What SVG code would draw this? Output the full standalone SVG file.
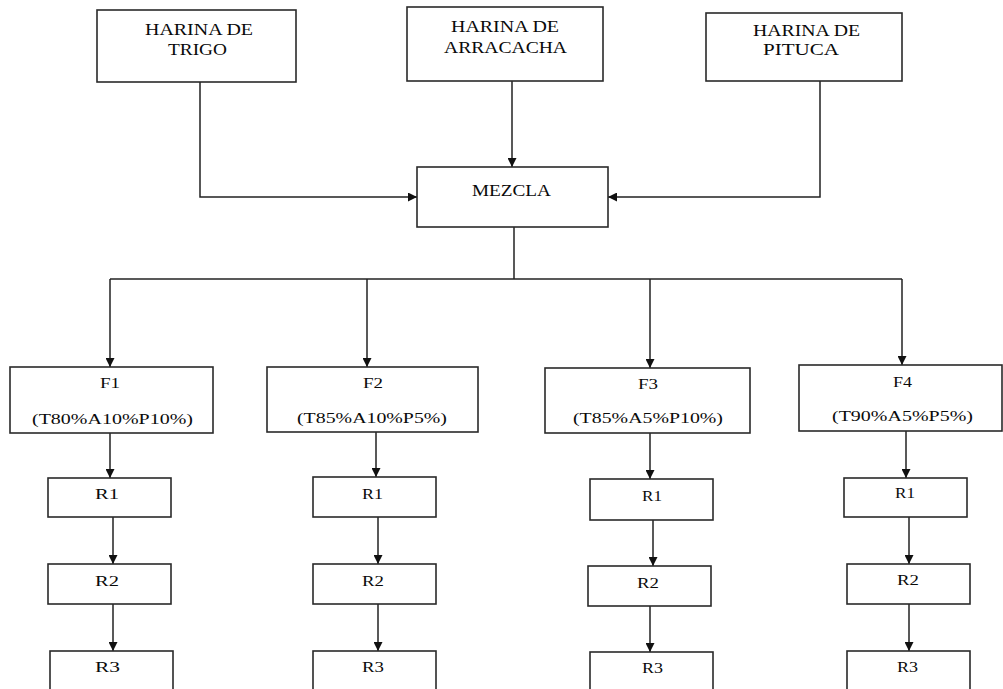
<svg xmlns="http://www.w3.org/2000/svg" width="1003" height="689" viewBox="0 0 1003 689">
<defs>
<marker id="arr" viewBox="0 0 10 10" refX="10" refY="5" markerWidth="10" markerHeight="9" markerUnits="userSpaceOnUse" orient="auto">
<path d="M0,0 L10,5 L0,10 z" fill="#111"/>
</marker>
<style>
.box{fill:#fff;stroke:#2a2a2a;stroke-width:1.6}
.c{fill:none;stroke:#222;stroke-width:1.5}
.a{marker-end:url(#arr)}
text{font-family:"Liberation Serif","Times New Roman",serif;fill:#0a0a0a}
.t{font-size:16.5px}
.s{font-size:15px}
</style>
</defs>
<rect width="1003" height="689" fill="#fff"/>
<g id="connectors">
<path class="c a" d="M200,82 V197 H417"/>
<path class="c a" d="M512,81 V167"/>
<path class="c a" d="M820,81 V197 H608"/>
<path class="c" d="M514,227 V279"/>
<path class="c" d="M110,279 H902"/>
<path class="c a" d="M110,279 V367"/>
<path class="c a" d="M367,279 V367"/>
<path class="c a" d="M650,279 V368"/>
<path class="c a" d="M902,279 V365"/>
<path class="c a" d="M110,433 V478"/>
<path class="c a" d="M113,517 V564"/>
<path class="c a" d="M113,604 V651"/>
<path class="c a" d="M376,432 V477"/>
<path class="c a" d="M378,517 V564"/>
<path class="c a" d="M378,604 V651"/>
<path class="c a" d="M650,433 V479"/>
<path class="c a" d="M653,520 V566"/>
<path class="c a" d="M650,606 V652"/>
<path class="c a" d="M906,431 V478"/>
<path class="c a" d="M909,517 V564"/>
<path class="c a" d="M909,604 V651"/>
</g>
<g id="trigo">
<rect class="box" x="97" y="10" width="199" height="72"/>
<text class="t" x="145" y="35" textLength="108" lengthAdjust="spacingAndGlyphs">HARINA DE</text>
<text class="t" x="168" y="55" textLength="59" lengthAdjust="spacingAndGlyphs">TRIGO</text>
</g>
<g id="arracacha">
<rect class="box" x="407" y="7" width="196" height="74"/>
<text class="t" x="451" y="32" textLength="108" lengthAdjust="spacingAndGlyphs">HARINA DE</text>
<text class="t" x="444" y="53" textLength="123" lengthAdjust="spacingAndGlyphs">ARRACACHA</text>
</g>
<g id="pituca">
<rect class="box" x="706" y="13" width="196" height="68"/>
<text class="t" x="753" y="36" textLength="107" lengthAdjust="spacingAndGlyphs">HARINA DE</text>
<text class="t" x="763" y="55" textLength="76" lengthAdjust="spacingAndGlyphs">PITUCA</text>
</g>
<g id="mezcla">
<rect class="box" x="417" y="167" width="191" height="60"/>
<text class="t" x="472" y="196" textLength="79" lengthAdjust="spacingAndGlyphs">MEZCLA</text>
</g>
<g id="f1">
<rect class="box" x="10" y="367" width="203" height="66"/>
<text class="s" x="100" y="388" textLength="20" lengthAdjust="spacingAndGlyphs">F1</text>
<text class="s" x="32" y="424" textLength="161" lengthAdjust="spacingAndGlyphs">(T80%A10%P10%)</text>
</g>
<g id="f2">
<rect class="box" x="267" y="367" width="211" height="65"/>
<text class="s" x="363" y="388" textLength="20" lengthAdjust="spacingAndGlyphs">F2</text>
<text class="s" x="297" y="423" textLength="150" lengthAdjust="spacingAndGlyphs">(T85%A10%P5%)</text>
</g>
<g id="f3">
<rect class="box" x="545" y="368" width="205" height="65"/>
<text class="s" x="638" y="389" textLength="20" lengthAdjust="spacingAndGlyphs">F3</text>
<text class="s" x="573" y="423" textLength="150" lengthAdjust="spacingAndGlyphs">(T85%A5%P10%)</text>
</g>
<g id="f4">
<rect class="box" x="799" y="365" width="203" height="66"/>
<text class="s" x="893" y="387" textLength="19" lengthAdjust="spacingAndGlyphs">F4</text>
<text class="s" x="832" y="421" textLength="141" lengthAdjust="spacingAndGlyphs">(T90%A5%P5%)</text>
</g>
<g id="f1r1"><rect class="box" x="48" y="478" width="123" height="39"/><text class="s" x="95" y="499" textLength="24" lengthAdjust="spacingAndGlyphs">R1</text></g>
<g id="f1r2"><rect class="box" x="48" y="564" width="123" height="40"/><text class="s" x="95" y="586" textLength="24" lengthAdjust="spacingAndGlyphs">R2</text></g>
<g id="f1r3"><rect class="box" x="50" y="651" width="123" height="50"/><text class="s" x="95" y="672" textLength="25" lengthAdjust="spacingAndGlyphs">R3</text></g>
<g id="f2r1"><rect class="box" x="313" y="477" width="123" height="40"/><text class="s" x="362" y="499" textLength="21" lengthAdjust="spacingAndGlyphs">R1</text></g>
<g id="f2r2"><rect class="box" x="313" y="564" width="123" height="40"/><text class="s" x="362" y="586" textLength="22" lengthAdjust="spacingAndGlyphs">R2</text></g>
<g id="f2r3"><rect class="box" x="313" y="651" width="123" height="50"/><text class="s" x="362" y="672" textLength="22" lengthAdjust="spacingAndGlyphs">R3</text></g>
<g id="f3r1"><rect class="box" x="590" y="479" width="123" height="41"/><text class="s" x="642" y="501" textLength="20" lengthAdjust="spacingAndGlyphs">R1</text></g>
<g id="f3r2"><rect class="box" x="588" y="566" width="123" height="40"/><text class="s" x="637" y="588" textLength="22" lengthAdjust="spacingAndGlyphs">R2</text></g>
<g id="f3r3"><rect class="box" x="590" y="652" width="123" height="50"/><text class="s" x="642" y="673" textLength="21" lengthAdjust="spacingAndGlyphs">R3</text></g>
<g id="f4r1"><rect class="box" x="844" y="478" width="123" height="39"/><text class="s" x="895" y="498" textLength="20" lengthAdjust="spacingAndGlyphs">R1</text></g>
<g id="f4r2"><rect class="box" x="847" y="564" width="123" height="40"/><text class="s" x="897" y="585" textLength="22" lengthAdjust="spacingAndGlyphs">R2</text></g>
<g id="f4r3"><rect class="box" x="847" y="651" width="123" height="50"/><text class="s" x="897" y="672" textLength="21" lengthAdjust="spacingAndGlyphs">R3</text></g>
</svg>
